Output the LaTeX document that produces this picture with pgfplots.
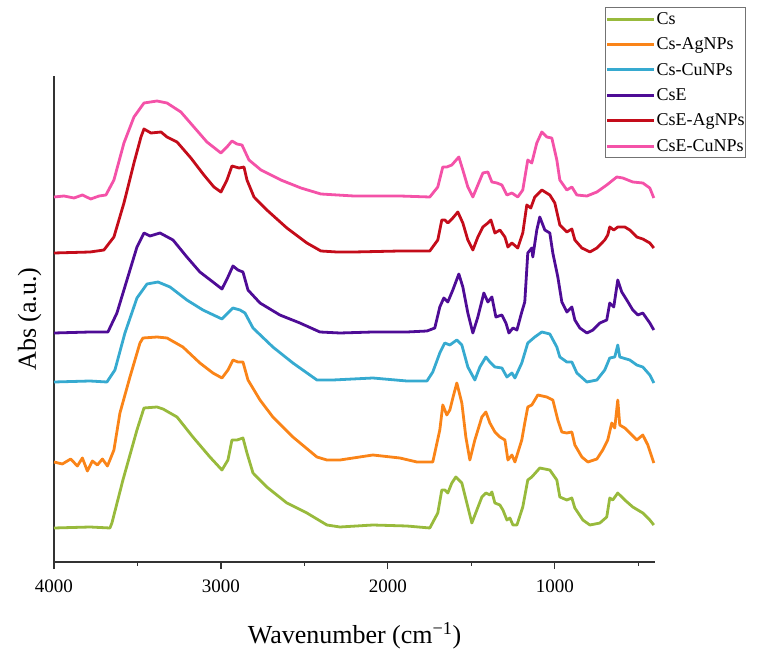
\documentclass[border=0pt]{standalone}
\usepackage{fontspec}
\setmainfont{Liberation Serif}
\usepackage{pgfplots}
\pgfplotsset{compat=1.18}

\definecolor{cGreen}{RGB}{152,186,60}
\definecolor{cOrange}{RGB}{250,132,24}
\definecolor{cCyan}{RGB}{54,170,208}
\definecolor{cPurple}{RGB}{78,12,150}
\definecolor{cRed}{RGB}{196,12,26}
\definecolor{cPink}{RGB}{244,82,168}

\begin{document}
\begin{tikzpicture}
\begin{axis}[
  width=601pt, height=486pt, scale only axis,
  x dir=reverse, xmin=400, xmax=4000,
  ymin=0, ymax=486,
  axis x line=bottom, axis y line=left,
  axis line style={-, line width=1.2pt, black!80},
  xtick={1000,2000,3000,4000},
  minor xtick={500,1500,2500,3500},
  ytick=\empty,
  tick align=outside, tick pos=lower,
  major tick length=7pt, minor tick length=3.5pt,
  every tick/.style={line width=1.2pt, black!80},
  /pgf/number format/assume math mode=true,
  /pgf/number format/set thousands separator={},
  ticklabel style={font=\fontsize{19}{21}\selectfont},
  xticklabel style={yshift=-7pt},
  xlabel={Wavenumber (cm\textsuperscript{−1})},
  ylabel={Abs (a.u.)},
  label style={font=\fontsize{26}{28}\selectfont},
  xlabel style={yshift=-23pt},
  ylabel style={yshift=2pt},
  every axis plot/.append style={line width=2.8pt, line join=round},
  legend image code/.code={\draw[#1, line width=3pt] (0pt,0pt) -- (47pt,0pt);},
  legend cell align=left,
  legend style={at={(1.1514,1.142)}, anchor=north east,
    draw=black!55, line width=0.8pt,
    font=\fontsize{18}{20}\selectfont,
    inner xsep=0pt, inner ysep=3pt, row sep=8pt,
    nodes={inner xsep=1pt}},
  clip=false,
]
% Cs
\addplot[cGreen] coordinates {
(4000,34) (3784,35) (3665,34) (3653,39) (3587,82) (3503,132) (3461,154) (3383,155)
(3347,153) (3263,145) (3168,125) (3066,105) (2994,92) (2958,102) (2934,122) (2904,122)
(2868,124) (2844,109) (2808,89) (2725,75) (2605,59) (2485,49) (2365,37) (2287,35)
(2090,37) (1886,36) (1749,34) (1701,49) (1677,72) (1659,72) (1641,69) (1617,79)
(1593,85) (1557,79) (1527,59) (1497,39) (1467,52) (1437,65) (1413,69) (1389,67)
(1377,70) (1359,59) (1329,57) (1311,52) (1287,42) (1269,44) (1251,37) (1227,37)
(1192,55) (1162,82) (1138,85) (1090,94) (1030,92) (988,82) (970,65) (928,62)
(898,64) (880,54) (832,42) (790,37) (730,39) (689,45) (671,64) (653,62)
(623,69) (581,62) (533,55) (473,49) (431,42) (407,37)
};
% Cs-AgNPs
\addplot[cOrange] coordinates {
(4000,100) (3950,98) (3900,103) (3860,96) (3830,104) (3800,91) (3770,101) (3740,97)
(3710,103) (3680,96) (3665,102) (3641,112) (3605,149) (3545,185) (3485,219) (3467,224)
(3383,225) (3323,224) (3228,215) (3126,199) (3048,189) (2994,184) (2958,192) (2928,202)
(2898,200) (2868,200) (2838,182) (2766,162) (2689,145) (2569,125) (2425,105) (2365,102)
(2287,102) (2090,107) (1928,104) (1826,100) (1731,100) (1689,132) (1671,157) (1647,147)
(1629,152) (1611,164) (1587,179) (1557,159) (1533,125) (1509,102) (1479,122) (1437,145)
(1413,150) (1389,139) (1359,130) (1329,125) (1299,122) (1281,102) (1257,107) (1239,100)
(1198,122) (1180,139) (1162,155) (1138,157) (1102,167) (1048,165) (1012,162) (982,142)
(958,130) (928,129) (898,130) (880,117) (838,105) (802,100) (748,103) (713,112)
(683,122) (659,139) (641,134) (623,162) (611,137) (581,134) (551,129) (509,122)
(473,127) (443,117) (407,99)
};
% Cs-CuNPs
\addplot[cCyan] coordinates {
(4000,180) (3784,181) (3683,180) (3635,192) (3575,229) (3503,264) (3443,278) (3377,280)
(3305,275) (3204,262) (3108,252) (2994,243) (2958,249) (2928,254) (2886,252) (2856,249)
(2808,234) (2689,215) (2569,199) (2425,182) (2329,182) (2090,184) (1886,181) (1766,181)
(1731,190) (1689,209) (1659,219) (1629,217) (1587,222) (1557,217) (1521,195) (1479,182)
(1449,195) (1413,205) (1389,200) (1359,195) (1317,194) (1287,185) (1257,189) (1239,184)
(1198,199) (1162,219) (1120,225) (1078,230) (1030,228) (988,215) (970,205) (928,200)
(898,200) (868,189) (808,180) (748,182) (701,192) (671,204) (641,205) (623,217)
(611,205) (551,202) (509,197) (473,195) (431,187) (407,179)
};
% CsE
\addplot[cPurple] coordinates {
(4000,229) (3784,230) (3677,230) (3623,249) (3563,282) (3503,315) (3461,329) (3425,326)
(3365,329) (3287,322) (3204,305) (3126,290) (3048,280) (2994,273) (2958,285) (2928,296)
(2898,292) (2868,290) (2838,272) (2766,259) (2647,247) (2527,239) (2407,230) (2287,229)
(2090,230) (1886,230) (1766,231) (1719,234) (1689,255) (1665,264) (1641,260) (1611,272)
(1575,288) (1551,275) (1521,249) (1491,229) (1461,245) (1425,269) (1401,260) (1377,265)
(1353,245) (1317,247) (1293,239) (1275,229) (1251,234) (1227,232) (1198,250) (1180,260)
(1162,309) (1138,314) (1132,305) (1108,332) (1090,345) (1060,332) (1030,329) (1012,309)
(982,285) (958,260) (928,250) (898,255) (880,242) (850,234) (808,229) (772,232)
(730,239) (689,242) (671,259) (647,255) (623,282) (599,270) (569,262) (533,252)
(503,247) (473,249) (431,239) (407,232)
};
% CsE-AgNPs
\addplot[cRed] coordinates {
(4000,309) (3784,310) (3701,312) (3641,325) (3581,359) (3521,399) (3479,425) (3461,433)
(3419,429) (3359,430) (3323,425) (3263,420) (3180,404) (3102,387) (3042,375) (3000,370)
(2964,382) (2934,396) (2892,394) (2862,395) (2844,382) (2802,365) (2725,352) (2605,334)
(2485,319) (2401,311) (2305,310) (2204,310) (1928,311) (1749,311) (1701,322) (1677,342)
(1659,342) (1641,339) (1611,344) (1581,350) (1551,339) (1521,322) (1491,312) (1461,325)
(1431,335) (1401,339) (1383,342) (1359,329) (1329,332) (1299,325) (1281,315) (1257,319)
(1222,314) (1192,329) (1168,357) (1144,354) (1120,365) (1078,372) (1030,367) (1000,359)
(970,337) (928,330) (898,333) (880,322) (838,314) (790,310) (748,314) (701,322)
(683,327) (671,335) (647,332) (623,335) (581,335) (551,332) (509,325) (473,323)
(431,319) (407,314)
};
% CsE-CuNPs
\addplot[cPink] coordinates {
(4000,365) (3940,366) (3880,364) (3830,367) (3780,363) (3730,366) (3689,367) (3641,382)
(3581,419) (3521,445) (3461,459) (3383,461) (3323,459) (3240,450) (3162,435) (3084,420)
(3000,409) (2964,415) (2934,421) (2904,418) (2874,417) (2832,402) (2760,392) (2641,382)
(2521,374) (2401,368) (2204,366) (1928,366) (1749,365) (1701,375) (1671,395) (1647,395)
(1617,397) (1575,405) (1551,392) (1521,375) (1491,365) (1461,377) (1431,389) (1401,390)
(1377,380) (1347,379) (1317,377) (1287,367) (1257,369) (1222,365) (1192,372) (1162,402)
(1138,399) (1108,419) (1078,430) (1048,425) (1018,424) (988,402) (970,382) (928,372)
(898,375) (868,367) (808,366) (748,370) (689,377) (629,385) (593,384) (533,380)
(473,379) (431,374) (407,364)
};
\legend{Cs,Cs-AgNPs,Cs-CuNPs,CsE,CsE-AgNPs,CsE-CuNPs}
\end{axis}
\path (current axis.south west) ++(-54pt,-94pt) rectangle ++(758pt,656pt);
\end{tikzpicture}
\end{document}
